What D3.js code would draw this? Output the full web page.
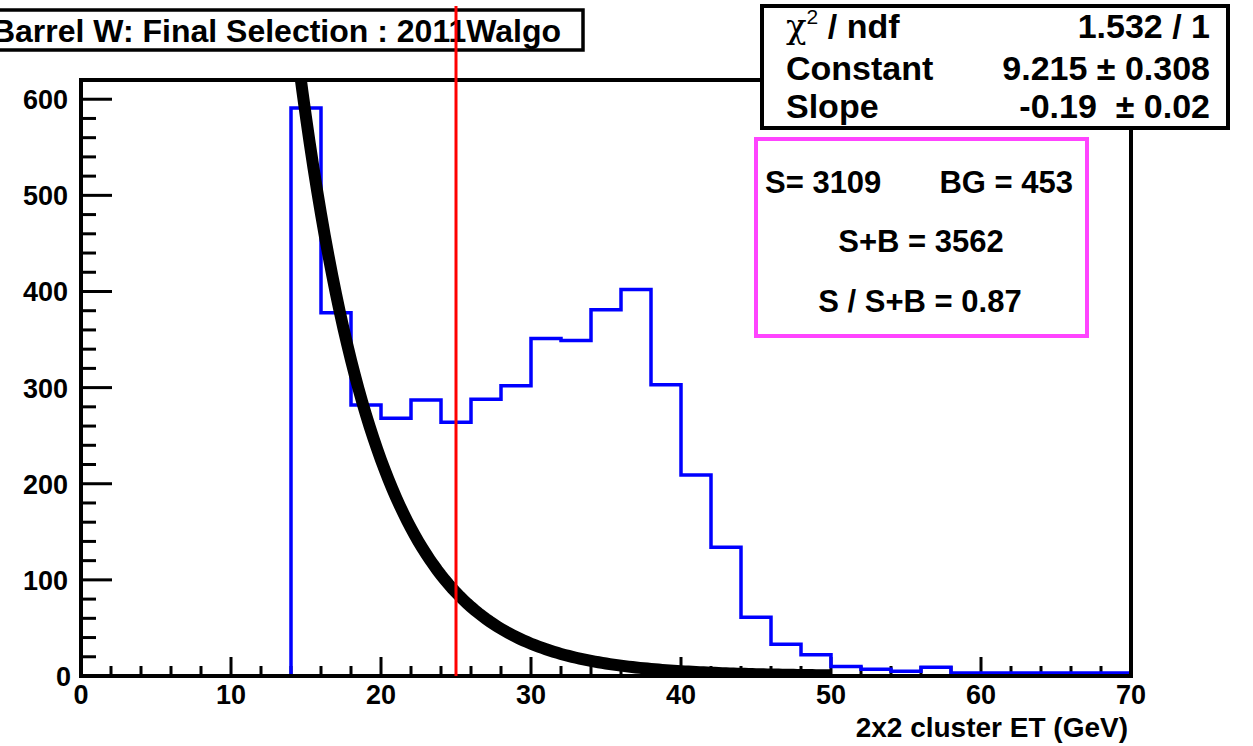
<!DOCTYPE html>
<html><head><meta charset="utf-8">
<script src="https://cdn.jsdelivr.net/npm/d3@7"></script>
<style>
html,body{margin:0;padding:0;background:#fff;}
svg{display:block;font-family:"Liberation Sans",Arial,Helvetica,sans-serif;font-weight:bold;}
</style></head>
<body>
<svg id="c" width="1253" height="746"></svg>
<script>
// ---- data ----
const binEdgesStart = 14, binWidth = 2, xMax = 70;
const counts = [591, 378, 282, 268, 287, 264, 288, 302, 351, 349, 381, 402, 303, 209, 134, 61, 33, 22, 10, 7, 5, 9, 3, 3, 3, 3, 3, 3];
const fitConstant = 9.215, fitSlope = -0.19, fitRange = [14, 50];
const cutValue = 25;
const xTicks = [0, 10, 20, 30, 40, 50, 60, 70];
const yTicks = [0, 100, 200, 300, 400, 500, 600];
const titleText = "Barrel W: Final Selection : 2011Walgo";
const xTitle = "2x2 cluster ET (GeV)";
const statsLabels = ["/ ndf", "Constant", "Slope"];
const statsValues = ["1.532 / 1", "9.215 \u00b1 0.308", "-0.19  \u00b1 0.02"];
const sbLines = ["S= 3109", "BG = 453", "S+B = 3562", "S / S+B = 0.87"];

// ---- layout ----
const L = 81, T = 80, R = 1131, B = 676;
const svg = d3.select("#c");
const x = d3.scaleLinear().domain([0, 70]).range([L, R]);
const y = d3.scaleLinear().domain([0, 620]).range([B, T]);

svg.append("clipPath").attr("id", "fr").append("rect")
  .attr("x", L).attr("y", T).attr("width", R - L).attr("height", B - T);

// ticks y
const yMinor = d3.range(0, 621, 20).filter(v => v % 100 !== 0);
const yAx = svg.append("g").attr("transform", `translate(${L},0)`);
yAx.selectAll("line.maj").data(yTicks).join("line")
  .attr("x1", 0).attr("x2", 31).attr("y1", d => y(d)).attr("y2", d => y(d))
  .attr("stroke", "#000").attr("stroke-width", 3);
yAx.selectAll("line.min").data(yMinor).join("line")
  .attr("x1", 0).attr("x2", 15).attr("y1", d => y(d)).attr("y2", d => y(d))
  .attr("stroke", "#000").attr("stroke-width", 3);
yAx.selectAll("text").data(yTicks).join("text")
  .attr("x", d => d === 0 ? -10 : -13).attr("y", d => y(d) + 10)
  .attr("text-anchor", "end").attr("font-size", 27).text(d => d);

// ticks x
const xMinor = d3.range(0, 71, 2).filter(v => v % 10 !== 0);
const xAx = svg.append("g").attr("transform", `translate(0,${B})`);
xAx.selectAll("line.maj").data(xTicks).join("line")
  .attr("x1", d => x(d)).attr("x2", d => x(d)).attr("y1", 0).attr("y2", -19)
  .attr("stroke", "#000").attr("stroke-width", 3);
xAx.selectAll("line.min").data(xMinor).join("line")
  .attr("x1", d => x(d)).attr("x2", d => x(d)).attr("y1", 0).attr("y2", -10)
  .attr("stroke", "#000").attr("stroke-width", 3);
xAx.selectAll("text").data(xTicks).join("text")
  .attr("x", d => x(d)).attr("y", 28)
  .attr("text-anchor", "middle").attr("font-size", 27).text(d => d);

svg.append("text").attr("x", 1128).attr("y", 737).attr("text-anchor", "end")
  .attr("font-size", 28).text(xTitle);

// histogram
const pts = [[binEdgesStart, 0]];
counts.forEach((c, i) => pts.push([binEdgesStart + i * binWidth, c]));
pts.push([xMax, counts[counts.length - 1]]);
const hline = d3.line().x(d => x(d[0])).y(d => y(d[1])).curve(d3.curveStepAfter);
svg.append("path").attr("d", hline(pts)).attr("fill", "none")
  .attr("stroke", "#0000ff").attr("stroke-width", 3.5).attr("clip-path", "url(#fr)");

// fit curve
const fitX = d3.range(fitRange[0], fitRange[1] + 0.001, 0.25);
const fitPts = fitX.map(v => [v, Math.exp(fitConstant + fitSlope * v)]);
svg.append("path").attr("d", d3.line().x(d => x(d[0])).y(d => y(d[1]))(fitPts))
  .attr("fill", "none").attr("stroke", "#000").attr("stroke-width", 12)
  .attr("clip-path", "url(#fr)");

// frame
svg.append("rect").attr("x", L).attr("y", T).attr("width", R - L).attr("height", B - T)
  .attr("fill", "none").attr("stroke", "#000").attr("stroke-width", 4);

// title box
svg.append("rect").attr("x", -10).attr("y", 10).attr("width", 593).attr("height", 40)
  .attr("fill", "#fff").attr("stroke", "#000").attr("stroke-width", 3.5);
svg.append("text").attr("x", 561).attr("y", 42).attr("text-anchor", "end")
  .attr("font-size", 32).text(titleText);

// cut line
svg.append("line").attr("x1", x(cutValue)).attr("x2", x(cutValue)).attr("y1", 6).attr("y2", B)
  .attr("stroke", "#ff0000").attr("stroke-width", 3);

// stats box
svg.append("rect").attr("x", 762).attr("y", 6).attr("width", 466).attr("height", 122)
  .attr("fill", "#fff").attr("stroke", "#000").attr("stroke-width", 4);
const statsY = [38, 80, 118];
const t0 = svg.append("text").attr("x", 786).attr("y", statsY[0]).attr("font-size", 34);
t0.append("tspan").attr("font-weight", "normal").attr("font-family", "DejaVu Serif, serif").text("\u03c7");
t0.append("tspan").attr("font-size", 21).attr("dy", -14).attr("font-weight", "normal").text("2");
t0.append("tspan").attr("dy", 14).text(" " + statsLabels[0]);
statsLabels.slice(1).forEach((s, i) => {
  svg.append("text").attr("x", 786).attr("y", statsY[i + 1]).attr("font-size", 34).text(s);
});
statsValues.forEach((s, i) => {
  svg.append("text").attr("x", 1210).attr("y", statsY[i]).attr("text-anchor", "end")
    .attr("font-size", 34).attr("xml:space", "preserve").style("white-space", "pre").text(s);
});

// S/B box
svg.append("rect").attr("x", 756).attr("y", 139).attr("width", 331).attr("height", 197)
  .attr("fill", "#fff").attr("stroke", "#ff44ff").attr("stroke-width", 4);
svg.append("text").attr("x", 765).attr("y", 193).attr("font-size", 31).text(sbLines[0]);
svg.append("text").attr("x", 1073).attr("y", 193).attr("text-anchor", "end").attr("font-size", 31).text(sbLines[1]);
svg.append("text").attr("x", 921).attr("y", 252).attr("text-anchor", "middle").attr("font-size", 31).text(sbLines[2]);
svg.append("text").attr("x", 920).attr("y", 312).attr("text-anchor", "middle").attr("font-size", 31).text(sbLines[3]);
</script>
</body></html>
